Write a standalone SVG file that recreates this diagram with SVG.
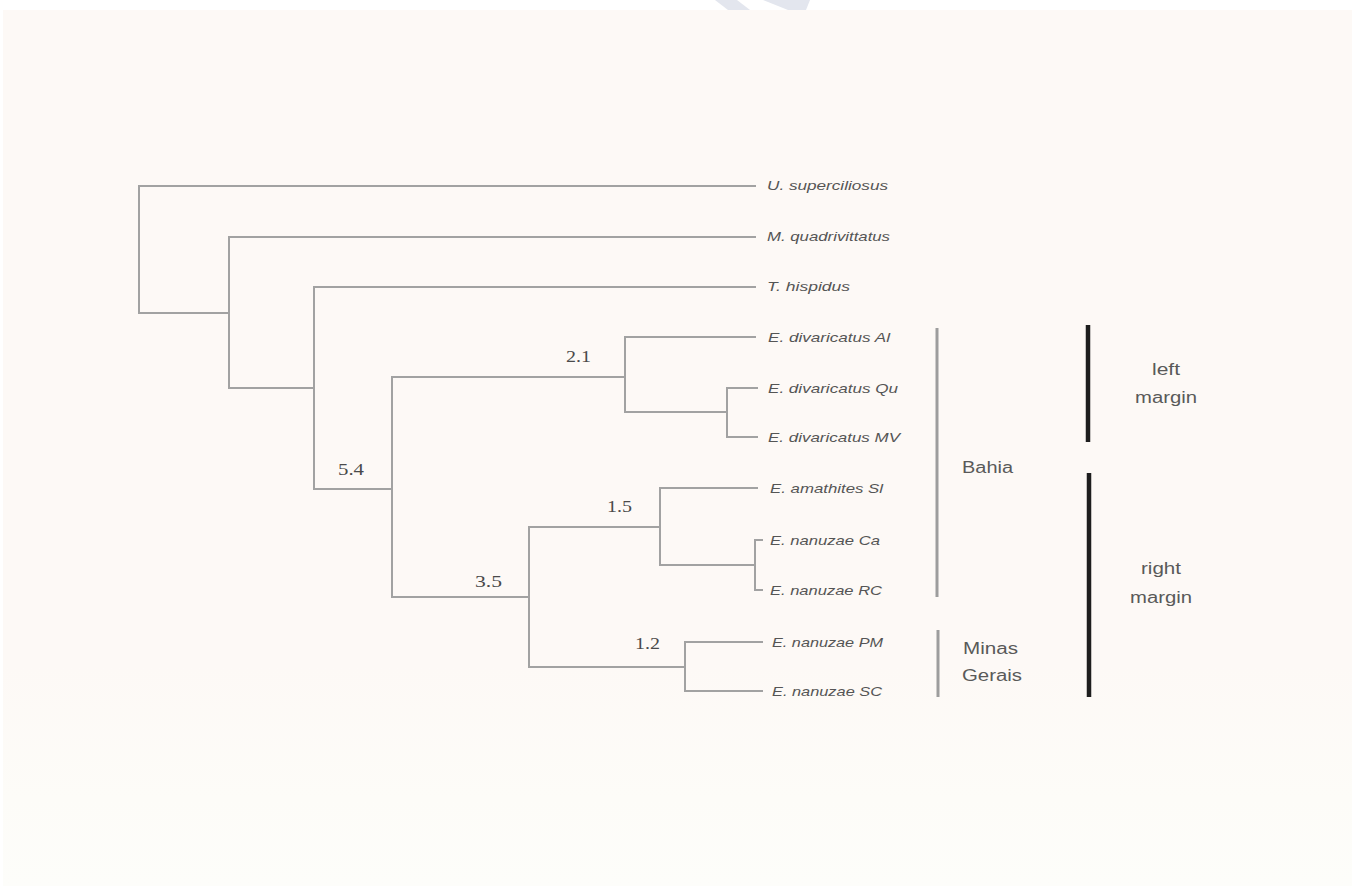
<svg xmlns="http://www.w3.org/2000/svg" width="1352" height="886" viewBox="0 0 1352 886">
  <defs>
    <linearGradient id="paper" x1="0" y1="0" x2="0" y2="1">
      <stop offset="0" stop-color="#fdf9f6"/>
      <stop offset="0.75" stop-color="#fdf9f6"/>
      <stop offset="0.9" stop-color="#fdfcf8"/>
      <stop offset="1" stop-color="#fdfdfa"/>
    </linearGradient>
  </defs>
  <style>
    .branch { fill: none; stroke: #a2a2a2; stroke-width: 2; stroke-linecap: square; }
    .taxon { font-family: "Liberation Sans", Arial, sans-serif; font-style: italic; font-size: 13px; fill: #555555; }
    .support { font-family: "Liberation Serif", "Times New Roman", serif; font-size: 17px; fill: #4a4a4a; }
    .region { font-family: "Liberation Sans", Arial, sans-serif; font-size: 16px; fill: #595959; }
    .bar-grey { stroke: #9d9d9d; stroke-width: 3; }
    .bar-black { stroke: #1e1e1e; stroke-width: 4.5; }
  </style>

  <!-- page -->
  <rect x="0" y="0" width="1352" height="886" fill="#ffffff"/>
  <rect x="3" y="10" width="1349" height="876" fill="url(#paper)"/>
  <polygon points="715,0 737,0 750,10 728,10" fill="#e3e6ee"/>
  <polygon points="763,0 810,0 806,10 788,10" fill="#e3e6ee"/>

  <!-- tree branches -->
  <g id="connectors">
    <path class="branch" d="M755,186 H139 V313 H229"/>
    <path class="branch" d="M755,237 H229 V388 H314"/>
    <path class="branch" d="M755,287 H314 V489 H392"/>
    <path class="branch" d="M392,377 V597"/>
    <path class="branch" d="M392,377 H625"/>
    <path class="branch" d="M755,337 H625 V412 H727"/>
    <path class="branch" d="M757,388 H727 V437 H757"/>
    <path class="branch" d="M392,597 H529"/>
    <path class="branch" d="M529,527 V667"/>
    <path class="branch" d="M529,527 H660"/>
    <path class="branch" d="M757,488 H660 V565 H755"/>
    <path class="branch" d="M762,540 H755 V590 H762"/>
    <path class="branch" d="M529,667 H685"/>
    <path class="branch" d="M762,642 H685 V691 H762"/>
  </g>

  <!-- node support values -->
  <g id="node-values">
    <text class="support" x="566" y="362" textLength="25" lengthAdjust="spacingAndGlyphs">2.1</text>
    <text class="support" x="338" y="475" textLength="26" lengthAdjust="spacingAndGlyphs">5.4</text>
    <text class="support" x="475" y="587" textLength="27" lengthAdjust="spacingAndGlyphs">3.5</text>
    <text class="support" x="607" y="512" textLength="25" lengthAdjust="spacingAndGlyphs">1.5</text>
    <text class="support" x="635" y="649" textLength="25" lengthAdjust="spacingAndGlyphs">1.2</text>
  </g>

  <!-- taxa -->
  <g id="taxon-U-superciliosus"><text class="taxon" x="767" y="190" textLength="121" lengthAdjust="spacingAndGlyphs">U. superciliosus</text></g>
  <g id="taxon-M-quadrivittatus"><text class="taxon" x="767" y="241" textLength="123" lengthAdjust="spacingAndGlyphs">M. quadrivittatus</text></g>
  <g id="taxon-T-hispidus"><text class="taxon" x="767" y="291" textLength="83" lengthAdjust="spacingAndGlyphs">T. hispidus</text></g>
  <g id="taxon-E-divaricatus-Al"><text class="taxon" x="768" y="342" textLength="122" lengthAdjust="spacingAndGlyphs">E. divaricatus Al</text></g>
  <g id="taxon-E-divaricatus-Qu"><text class="taxon" x="768" y="393" textLength="130" lengthAdjust="spacingAndGlyphs">E. divaricatus Qu</text></g>
  <g id="taxon-E-divaricatus-MV"><text class="taxon" x="768" y="442" textLength="132" lengthAdjust="spacingAndGlyphs">E. divaricatus MV</text></g>
  <g id="taxon-E-amathites-Sl"><text class="taxon" x="770" y="493" textLength="113" lengthAdjust="spacingAndGlyphs">E. amathites Sl</text></g>
  <g id="taxon-E-nanuzae-Ca"><text class="taxon" x="770" y="545" textLength="110" lengthAdjust="spacingAndGlyphs">E. nanuzae Ca</text></g>
  <g id="taxon-E-nanuzae-RC"><text class="taxon" x="770" y="595" textLength="112" lengthAdjust="spacingAndGlyphs">E. nanuzae RC</text></g>
  <g id="taxon-E-nanuzae-PM"><text class="taxon" x="772" y="647" textLength="111" lengthAdjust="spacingAndGlyphs">E. nanuzae PM</text></g>
  <g id="taxon-E-nanuzae-SC"><text class="taxon" x="772" y="696" textLength="110" lengthAdjust="spacingAndGlyphs">E. nanuzae SC</text></g>

  <!-- geographic brackets -->
  <g id="region-Bahia">
    <line class="bar-grey" x1="937" y1="328" x2="937" y2="597"/>
    <text class="region" x="962" y="473" textLength="51" lengthAdjust="spacingAndGlyphs">Bahia</text>
  </g>
  <g id="region-Minas-Gerais">
    <line class="bar-grey" x1="938" y1="630" x2="938" y2="697"/>
    <text class="region" x="963" y="654" textLength="55" lengthAdjust="spacingAndGlyphs">Minas</text>
    <text class="region" x="962" y="681" textLength="60" lengthAdjust="spacingAndGlyphs">Gerais</text>
  </g>

  <!-- river-margin brackets -->
  <g id="margin-left">
    <line class="bar-black" x1="1088" y1="325" x2="1088" y2="442"/>
    <text class="region" x="1166" y="375" text-anchor="middle" textLength="28" lengthAdjust="spacingAndGlyphs">left</text>
    <text class="region" x="1166" y="403" text-anchor="middle" textLength="62" lengthAdjust="spacingAndGlyphs">margin</text>
  </g>
  <g id="margin-right">
    <line class="bar-black" x1="1089" y1="473" x2="1089" y2="697"/>
    <text class="region" x="1161" y="574" text-anchor="middle" textLength="40" lengthAdjust="spacingAndGlyphs">right</text>
    <text class="region" x="1161" y="603" text-anchor="middle" textLength="62" lengthAdjust="spacingAndGlyphs">margin</text>
  </g>
</svg>
